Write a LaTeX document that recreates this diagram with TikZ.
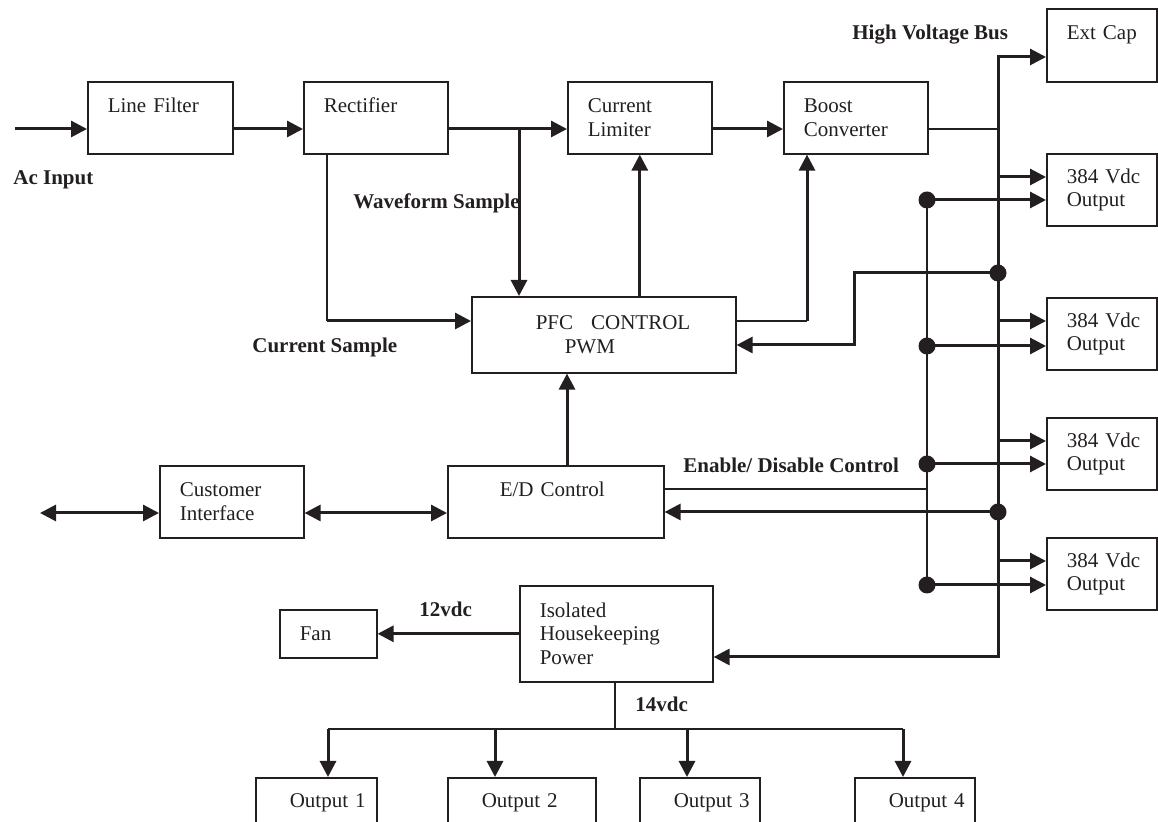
\documentclass[tikz,border=0pt]{standalone}
\usepackage{fontspec}
\setmainfont{Liberation Serif}
\usepackage{tikz}
\usetikzlibrary{arrows.meta,calc,positioning}
\definecolor{ink}{RGB}{35,31,32}

\begin{document}
\begin{tikzpicture}[
		x=0.5pt, y=-0.5pt,
		color=ink,
		block/.style={draw, line width=0.8pt, rectangle, anchor=north west, inner xsep=10pt, inner ysep=0pt, align=left, minimum height=36pt, text width=#1, font=\fontsize{10.5}{11.75}\selectfont},
		oneline/.style={text depth=13pt},
		lbl/.style={anchor=base west, inner sep=0pt, font=\fontsize{10.5}{12}\selectfont\bfseries},
		dot/.style={circle, fill, inner sep=0pt, minimum size=8.5pt},
		wire/.style={line width=0.8pt},
		heavy/.style={line width=1.5pt},
		signal/.style={heavy, -{Triangle[length=8pt,width=8pt]}},
		bidir/.style={heavy, {Triangle[length=8pt,width=8pt]}-{Triangle[length=8pt,width=8pt]}}
		]
	
		\useasboundingbox (0,0) rectangle (1158,822);
		\clip (0,0) rectangle (1158,822);
	
		% --- Chaine de puissance (en haut) ---
		\node[block=52.5pt, oneline] (lf) at (87,81) {Line Filter};
		\node[block=52pt, oneline] (rect) at (303,81) {Rectifier};
		\node[block=52pt] (cl) at (567,81) {Current\\Limiter};
		\node[block=52pt] (boost) at (783,81) {Boost\\Converter};
		\node[block=35pt, oneline, minimum height=36.5pt] (extcap) at (1046,8) {Ext Cap};
		\foreach \i/\y in {1/153,2/297,3/417,4/537}
			\node[block=35pt] (hv\i) at (1046,\y) {\mbox{384 Vdc}\\Output};
	
		% --- Controle ---
		\node[block=112pt, minimum height=38pt] (pfc) at (471,296) {\hspace*{22pt}PFC\hspace{9pt}CONTROL\\\hspace*{36.5pt}PWM};
		\node[block=52pt] (cust) at (159,465) {Customer\\Interface};
		\node[block=88pt, oneline] (ed) at (447,465) {\hspace*{16pt}E/D Control};
	
		% --- Alimentation auxiliaire ---
		\node[block=28.5pt, minimum height=24pt] (fan) at (279,609) {Fan};
		\node[block=76.5pt, minimum height=48pt] (hk) at (519,585) {Isolated\\Housekeeping\\Power};
		\foreach \i/\x/\w in {1/255/40.5pt,2/447/54pt,3/639/40pt,4/854/40pt}
			\node[block=\w, oneline] (aux\i) at (\x,777) {\hspace*{7pt}\mbox{Output \i}};
	
		% Etiquettes
		\node[lbl] (acl) at (13,185) {Ac Input};
		\node[lbl] (wfl) at (353,209) {Waveform Sample};
		\node[lbl] (csl) at (252,353) {Current Sample};
		\node[lbl] (hvl) at (852,40) {High Voltage Bus};
		\node[lbl] (enl) at (683,473) {Enable/ Disable Control};
		\node[lbl] (v12) at (419,617) {12vdc};
		\node[lbl] (v14) at (635,712) {14vdc};
	
		% Points de jonction
		\coordinate (ac) at (15,129);
		\coordinate (wf) at (519,129);
		\coordinate (cs) at (327,321);
		\coordinate (pb) at (807,321);
		\coordinate (fb) at (854,345);
		\coordinate (ep) at (567,465);
		\coordinate (ci) at (40,513);
		\coordinate (edj) at (927,489);
		\coordinate (bt) at (998,57);
		\coordinate (bb) at (998,657);
		\coordinate (hb) at (615,729);
		\node[dot] (bj1) at (998,273) {};
		\node[dot] (bj2) at (998,512) {};
		\foreach \i/\ya/\yb in {1/177/200,2/321/346,3/441/464,4/561/585}{
			\coordinate (b\i) at (998,\ya);
			\node[dot] (en\i) at (927,\yb) {};
		}
	
		% Fleches de puissance
		\draw[signal] (ac) -- (ac -| lf.west);
		\draw[signal] (lf.east |- ac) -- (rect.west |- ac);
		\draw[signal] (rect.east |- ac) -- (cl.west |- ac);
		\draw[signal] (cl.east |- ac) -- (boost.west |- ac);
		\draw[wire] (boost.east |- ac) -- (bt |- ac);
	
		% Bus haute tension
		\draw[signal] (bb) -- (bt) -- (extcap.west |- bt);
		\draw[signal] (bt) -- (bb) -- (hk.east |- bb);
		\foreach \i in {1,2,3,4}{
			\draw[signal] (b\i) -- (b\i -| hv\i.west);
			\draw[signal] (en\i.center) -- (en\i -| hv\i.west);
		}
		\draw[wire] (en1.center) -- (en4.center);
		\draw[wire] (edj -| ed.east) -- (edj);
		\draw[signal] (bj1.center) -- (bj1 -| fb) -- (fb) -- (fb -| pfc.east);
		\draw[signal] (bj2.center) -- (bj2 -| ed.east);
	
		% Echantillons et commandes
		\draw[signal] (wf) -- (wf |- pfc.north);
		\draw[wire] (rect.south -| cs) -- (cs);
		\draw[signal] (cs) -- (cs -| pfc.west);
		\draw[signal] (pfc.north -| cl.south) -- (cl.south);
		\draw[wire] (pb -| pfc.east) -- (pb);
		\draw[signal] (pb) -- (pb |- boost.south);
		\draw[signal] (ep) -- (ep |- pfc.south);
		\draw[bidir] (ci) -- (ci -| cust.west);
		\draw[bidir] (cust.east |- ci) -- (ed.west |- ci);
	
		% Sorties auxiliaires
		\draw[signal] (hk.west |- fan.east) -- (fan.east);
		\draw[wire] (hk.south -| hb) -- (hb);
		\foreach \i/\x in {1/328,2/495,3/687,4/903}{
			\coordinate (t\i) at (\x,729);
			\draw[signal] (t\i) -- (t\i |- aux\i.north);
		}
		\draw[wire] (t1) -- (t4);
	
	\end{tikzpicture}
\end{document}
